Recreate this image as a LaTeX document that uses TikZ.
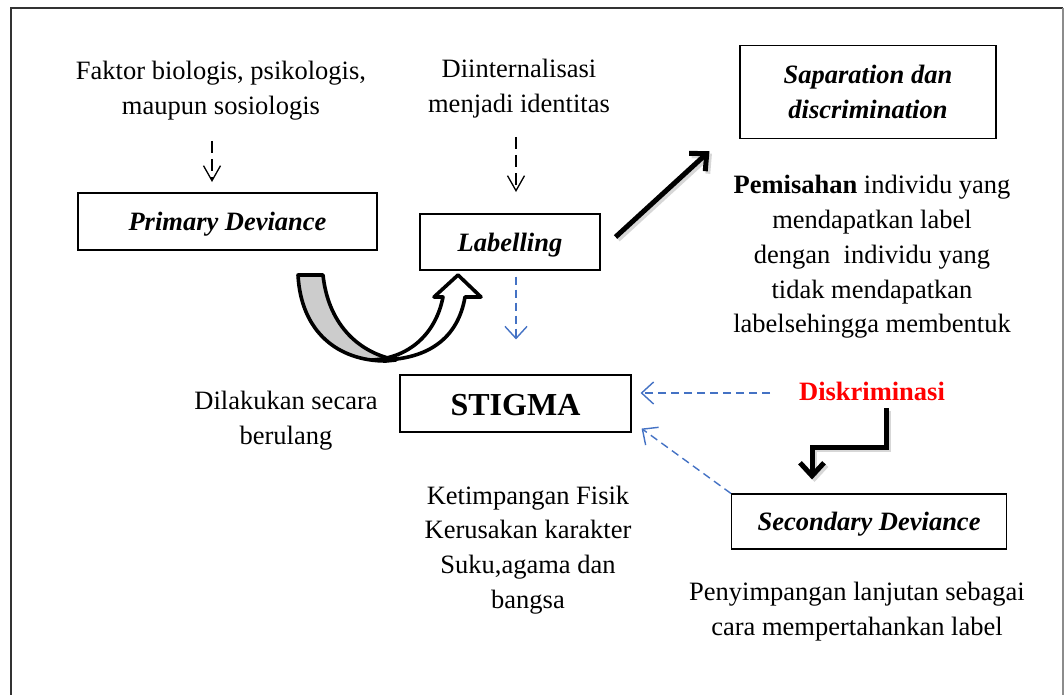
\documentclass[tikz,border=0pt]{standalone}
\usepackage{fontspec}
\setmainfont{Liberation Serif}
\usetikzlibrary{arrows.meta}
\definecolor{wordblue}{RGB}{68,114,196}
\definecolor{alertred}{RGB}{255,0,0}
\definecolor{bandgray}{RGB}{204,204,204}
\tikzset{
  x=1pt, y=-1pt,
  txt/.style={font=\fontsize{26.5}{34.8}\selectfont, align=center, inner sep=0pt},
  box/.style={draw, line width=1.1pt, inner sep=0pt, align=center,
    text height=24pt, text depth=6pt,
    font=\fontsize{26.5}{34.8}\selectfont\bfseries\itshape},
  blackdash/.style={line width=1.3pt, dash pattern=on 12pt off 6pt,
    -{Straight Barb[length=15pt,width=17pt,line width=1.3pt]}},
  bluedash/.style={wordblue, line width=1.4pt, dash pattern=on 8pt off 5pt,
    -{Straight Barb[length=12pt,width=22pt,line width=1.4pt]}},
  heavy/.style={line width=5pt,
    -{Straight Barb[length=13pt,width=24pt,line width=5pt]}},
  heavyshadow/.style={heavy, black!35, opacity=0.45, transform canvas={shift={(2.5pt,-2.5pt)}}},
  band/.style={line width=3.6pt, line join=round}
}
\begin{document}
\begin{tikzpicture}
\useasboundingbox (0,0) rectangle (1064,695);

% frame
\draw[black!80, line width=1.4pt] (11,700) -- (11,8) -- (1063,8);
\draw[black!45, line width=1.4pt] (1063,8) -- (1063,700);

% boxes
\node[box, minimum width=299pt, minimum height=57pt] (primary) at (227.5,221.5) {Primary Deviance};
\node[box, minimum width=180pt, minimum height=56pt] (labelling) at (510,242) {Labelling};
\node[draw, line width=1.1pt, inner sep=0pt, align=center, minimum width=256pt, minimum height=93pt,
      font=\fontsize{26.5}{34.8}\selectfont\bfseries\itshape] (saparation) at (868,92) {Saparation dan\\discrimination};
\node[draw, line width=1.1pt, inner sep=0pt, minimum width=231pt, minimum height=57pt,
      text height=28pt, text depth=4pt,
      font=\fontsize{32}{36}\selectfont\bfseries] (stigma) at (515.5,403.5) {STIGMA};
\node[box, minimum width=275pt, minimum height=55pt] (secondary) at (869,521.5) {Secondary Deviance};

% free texts
\node[txt] (faktor) at (221,91) {Faktor biologis, psikologis,\\maupun sosiologis};
\node[txt] (intern) at (519,89) {Diinternalisasi\\menjadi identitas};
\node[txt] (pemisahan) at (872,257) {\textbf{Pemisahan} individu yang\\mendapatkan label\\dengan~ individu yang\\tidak mendapatkan\\labelsehingga membentuk};
\node[txt] (ulang) at (286,421) {Dilakukan secara\\berulang};
\node[txt] (fisik) at (528,550) {Ketimpangan Fisik\\Kerusakan karakter\\Suku,agama dan\\bangsa};
\node[txt] (lanjut) at (857,612) {Penyimpangan lanjutan sebagai\\cara mempertahankan label};
\node[txt, text=alertred, font=\fontsize{26.5}{30}\selectfont\bfseries] (disk) at (872,391) {Diskriminasi};

% dashed arrows into the boxes
\coordinate (f1) at (212,141);
\coordinate (f2) at (212,182);
\draw[blackdash] (f1) -- (f2);
\coordinate (i1) at (516,137);
\coordinate (i2) at (516,192);
\draw[blackdash] (i1) -- (i2);

\draw[bluedash] ([xshift=6pt,yshift=-6pt]labelling.south) -- ([xshift=0.5pt,yshift=35pt]stigma.north);
\draw[bluedash] (770,393) -- ([xshift=9pt,yshift=10.5pt]stigma.east);
\draw[bluedash] (secondary.north west) -- ([xshift=10pt,yshift=4pt]stigma.south east);

% heavy arrows with soft shadow
\draw[heavyshadow] ([xshift=15pt,yshift=5pt]labelling.east) -- ([xshift=-30pt,yshift=-12pt]saparation.south west);
\draw[heavy] ([xshift=15pt,yshift=5pt]labelling.east) -- ([xshift=-30pt,yshift=-12pt]saparation.south west);
\draw[heavyshadow] (886,408) -- ++(0,39) -| ([xshift=-57pt,yshift=14pt]secondary.north);
\draw[heavy] (886,408) -- ++(0,39) -| ([xshift=-57pt,yshift=14pt]secondary.north);

% curved U-turn arrow from Primary Deviance up into Labelling
\filldraw[band, fill=bandgray]
  (386,361) .. controls (338,361) and (301,332) .. (298,275)
  -- (323,275) .. controls (328,322) and (356,352) .. (396,360) -- cycle;
\filldraw[band, fill=white]
  (372,360) .. controls (410,358) and (436,333) .. (443,297)
  -- (434,297) -- (458,275) -- (481,297) -- (465,297)
  .. controls (458,338) and (428,362) .. (372,360) -- cycle;
\end{tikzpicture}
\end{document}
